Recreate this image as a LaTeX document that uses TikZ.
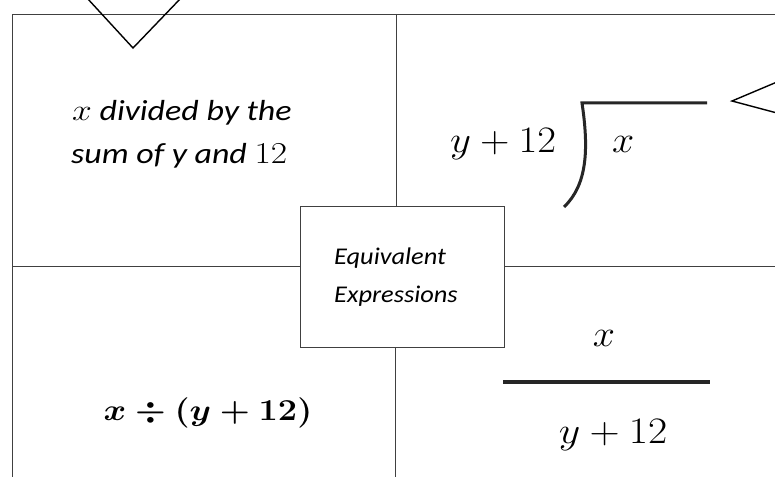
\documentclass[tikz,border=0pt]{standalone}
\usepackage{fontspec}
\newfontfamily\carfont{Carlito}
\newcommand\boldexpr{\mbox{\boldmath$x\div(y+12)$}}
\newcommand\mathsz{\fontsize{24.88}{30}\selectfont}
\newcommand\enlmath[1]{\scalebox{1.22}{$#1$}}
\tikzset{
  frameline/.style={draw=black!75, line width=0.8pt},
  markline/.style={draw=black, line width=1.4pt, line cap=round, line join=miter},
  thickbar/.style={draw=black!85, line width=3.2pt},
  txt/.style={inner sep=0pt},
}
\begin{document}
\begin{tikzpicture}[x=1pt,y=-1pt]
\useasboundingbox (0,0) rectangle (775,476);
\fill[white] (0,0) rectangle (775,476);
% coordinates of the frame
\coordinate (tl) at (12,14);
\coordinate (tr) at (776,14);
\coordinate (bl) at (12,477);
\coordinate (vt) at (396,14);
\coordinate (vm) at (396,206);
\coordinate (vb) at (395,477);
\coordinate (vc) at (395,347);
\coordinate (hl) at (12,266);
\coordinate (hml) at (300,266);
\coordinate (hmr) at (504,266);
\coordinate (hr) at (776,266);
% outer frame
\draw[frameline] (bl) -- (tl) -- (tr);
\draw[frameline] (vt) -- (vm);
\draw[frameline] (vc) -- (vb);
\draw[frameline] (hl) -- (hml);
\draw[frameline] (hmr) -- (hr);
% central box
\node[frameline, fill=white, minimum width=204pt, minimum height=141pt, inner sep=0pt] (center) at (402,276.5) {};
\node[txt, anchor=base west] (eq1) at (334,264) {\scalebox{1.1}[1]{\carfont\itshape\fontsize{24}{28}\selectfont Equivalent}};
\node[txt, anchor=base west] (eq2) at (334,302) {\scalebox{1.1}[1]{\carfont\itshape\fontsize{24}{28}\selectfont Expressions}};
% V mark at top
\coordinate (v1) at (87,-2);
\coordinate (v2) at (133,48);
\coordinate (v3) at (181,-2);
\draw[markline] (v1) -- (v2) -- (v3);
% < mark at right
\coordinate (a1) at (777,82);
\coordinate (a2) at (732,101);
\coordinate (a3) at (777,113);
\draw[markline] (a1) -- (a2) -- (a3);
% top-left text
\node[txt, anchor=base west] (tl1) at (72,120) {\scalebox{1.17}[1]{\carfont\itshape\fontsize{29}{34}\selectfont \enlmath{x} divided by the}};
\node[txt, anchor=base west] (tl2) at (71,163) {\scalebox{1.17}[1]{\carfont\itshape\fontsize{29}{34}\selectfont sum of y and \enlmath{12}}};
% long division
\node[txt, anchor=base west] (div) at (450,152) {\scalebox{1.64}[1.5]{\mathsz $y+12$}};
\node[txt, anchor=base west] (divx) at (612,152) {\scalebox{1.6}[1.5]{\mathsz $x$}};
\coordinate (b0) at (707,103);
\coordinate (b1) at (582,103);
\coordinate (b2) at (564,207);
\draw[thickbar, line width=3pt] (b0) -- (b1) .. controls (589,150) and (587,185) .. (b2);
% bottom-left
\node[txt, anchor=base] (bl1) at (208,420) {\scalebox{1.38}[1.22]{\mathsz\boldexpr}};
% fraction
\node[txt, anchor=base] (num) at (604,346) {\scalebox{1.6}[1.5]{\mathsz $x$}};
\node[txt, anchor=base] (den) at (613,443) {\scalebox{1.68}[1.5]{\mathsz $y+12$}};
\coordinate (f1) at (503,382);
\coordinate (f2) at (710,382);
\draw[thickbar] (f1) -- (f2);
\end{tikzpicture}
\end{document}
